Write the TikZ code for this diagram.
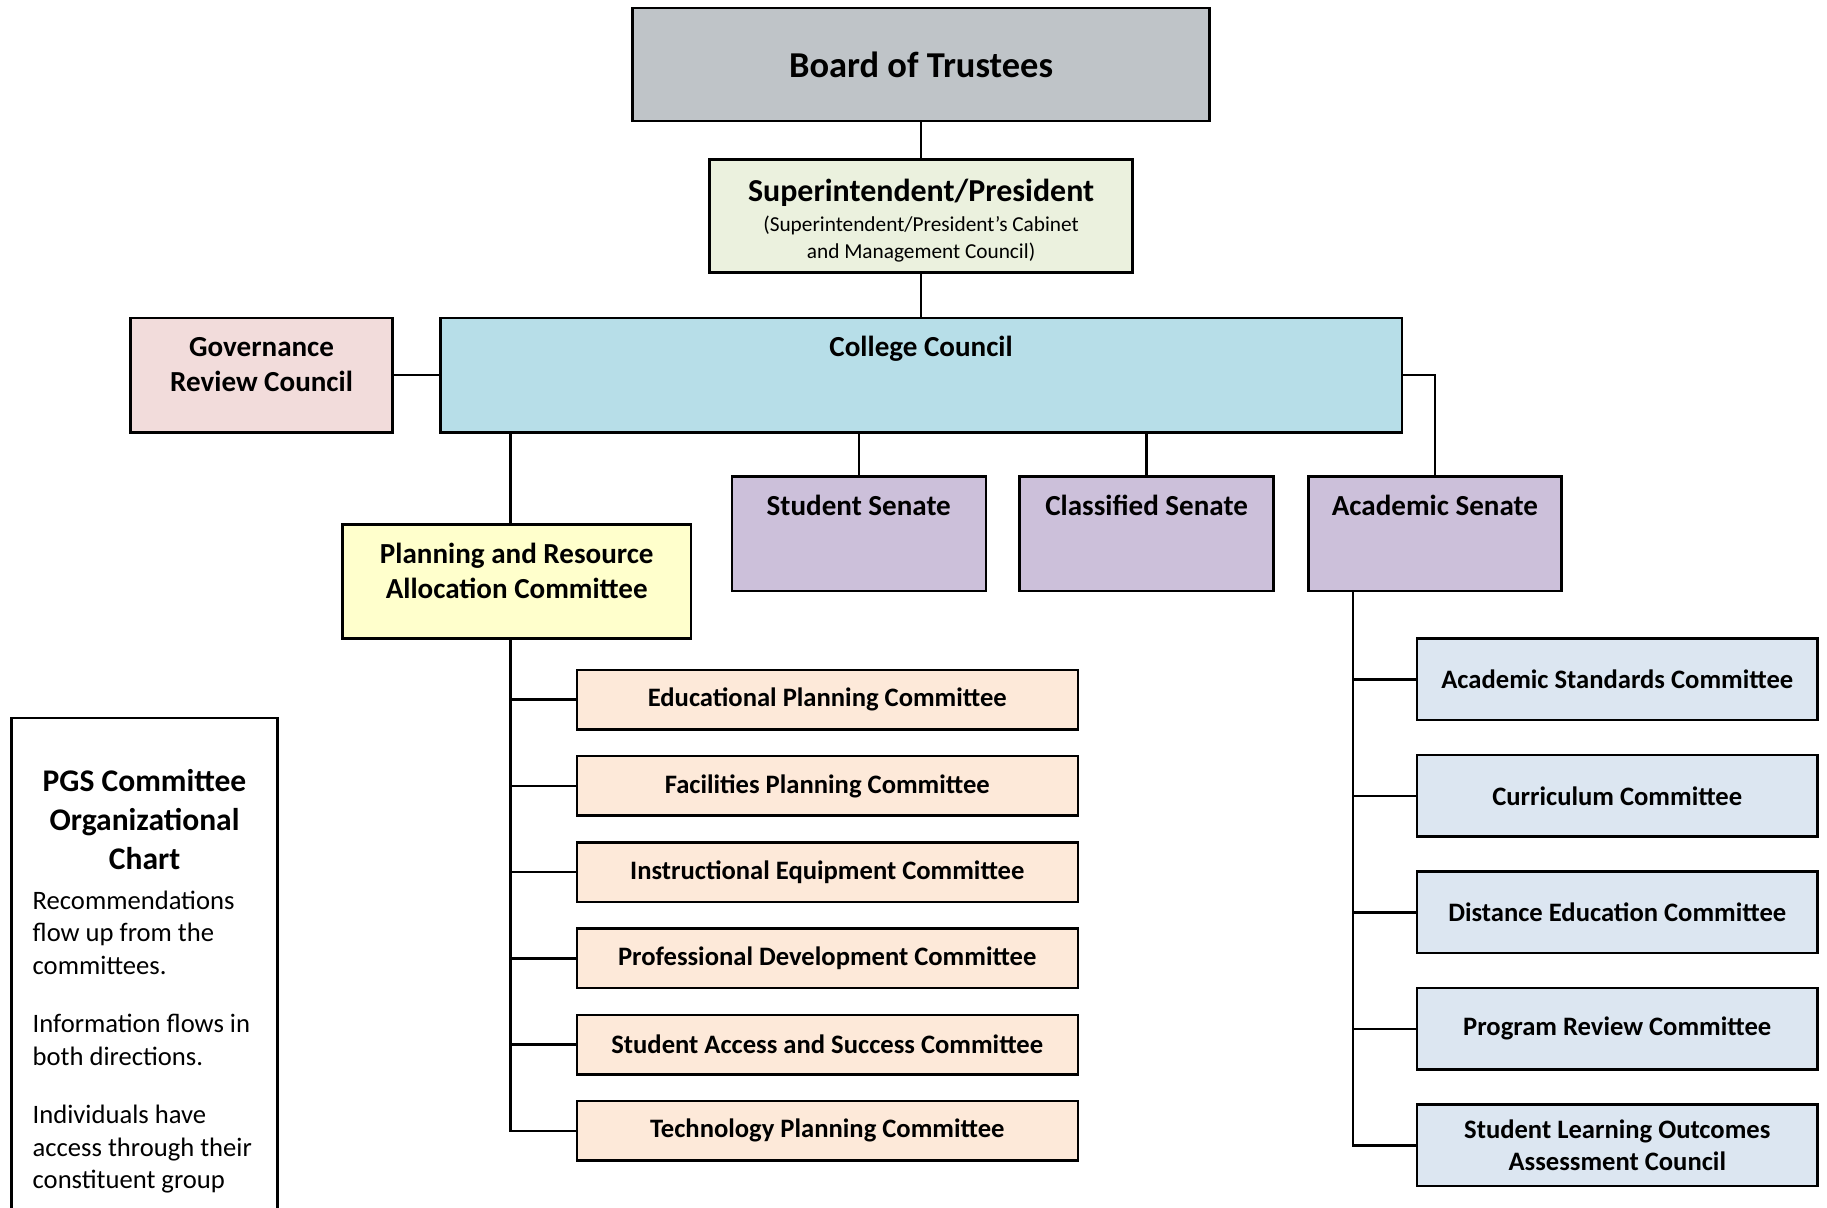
\documentclass[tikz,border=0pt]{standalone}
\usepackage{fontspec}
\setmainfont{Carlito}
\usetikzlibrary{positioning}
\definecolor{boardgray}{RGB}{191,196,200}
\definecolor{supgreen}{RGB}{235,241,222}
\definecolor{govpink}{RGB}{242,220,219}
\definecolor{ccblue}{RGB}{183,222,232}
\definecolor{prayellow}{RGB}{255,255,204}
\definecolor{senpurple}{RGB}{204,192,218}
\definecolor{cmtorange}{RGB}{253,233,217}
\definecolor{cmtblue}{RGB}{220,230,241}
\begin{document}
\begin{tikzpicture}[
  box/.style={draw, line width=0.6pt, inner sep=0pt},
  tbox/.style={box, align=flush center},
  midfont/.style={font=\bfseries\fontsize{7.1}{8.5}\selectfont},
  smallfont/.style={font=\bfseries\fontsize{6.5}{7.9}\selectfont},
  topline/.style={text height=0.33cm, text depth=0.65cm},
  senate/.style={tbox, midfont, topline, fill=senpurple, text width=2.18cm},
  prcmt/.style={tbox, smallfont, fill=cmtorange, text width=4.30cm, minimum height=0.51cm},
  ascmt/.style={tbox, smallfont, fill=cmtblue, text width=3.44cm, minimum height=0.70cm},
  link/.style={line width=0.6pt}]
\useasboundingbox (0,0) rectangle (15.68,-10.36);
\clip (0,0) rectangle (15.68,-10.36);
% top of the chart
\node[tbox, fill=boardgray, text width=4.95cm, minimum height=0.97cm,
  font=\bfseries\fontsize{8.9}{10.7}\selectfont] (bot) at (7.905,-0.555) {Board of Trustees};
\node[box, fill=supgreen, minimum width=3.63cm, text height=0.36cm, text depth=0.61cm] (sup) at (7.905,-1.855)
  {\parbox[t]{3.63cm}{\centering{\bfseries\fontsize{7.8}{9.4}\selectfont Superintendent/President\par}\vspace{0.6pt}
   \fontsize{5.2}{6.6}\selectfont (Superintendent/President’s Cabinet\\and Management Council)}};
\node[tbox, midfont, topline, fill=ccblue, text width=8.25cm] (cc) at (7.905,-3.22) {College Council};
\node[tbox, midfont, topline, fill=govpink, text width=2.25cm] (grc) at (2.245,-3.22) {Governance\\Review Council};
\node[tbox, midfont, text height=0.34cm, text depth=0.64cm, fill=prayellow, text width=2.99cm] (pra) at (4.435,-4.99)
  {Planning and Resource\\Allocation Committee};
\node[senate] (ss) at (7.37,-4.58) {Student Senate};
\node[senate] (cs) at (9.84,-4.58) {Classified Senate};
\node[senate, text width=2.17cm] (as) at (12.315,-4.58) {Academic Senate};
% committees
\foreach \name/\y/\txt in {epc/6.005/Educational Planning Committee,
    fpc/6.745/Facilities Planning Committee,
    iec/7.485/Instructional Equipment Committee,
    pdc/8.225/Professional Development Committee,
    sasc/8.965/Student Access and Success Committee,
    tpc/9.705/Technology Planning Committee}
  \node[prcmt] (\name) at (7.10,-\y) {\txt};
\foreach \name/\y/\txt in {asc/5.83/Academic Standards Committee,
    cuc/6.83/Curriculum Committee,
    dec/7.83/Distance Education Committee,
    prc/8.83/Program Review Committee,
    sloac/9.83/Student Learning Outcomes\\Assessment Council}
  \node[ascmt] (\name) at (13.88,-\y) {\txt};
% legend
\node[box, anchor=north west, text height=0.63cm, text depth=3.97cm] (pgs) at (0.09,-6.15)
  {\parbox[t]{2.28cm}{{\centering\bfseries\fontsize{7.7}{9.6}\selectfont PGS Committee\\Organizational\\Chart\par}\vspace{1.7pt}
   {\raggedright\leftskip=0.18cm\fontsize{6.5}{7.94}\selectfont Recommendations\\flow up from the\\committees.\par\vspace{6.3pt}
   Information flows in\\both directions.\par\vspace{6.3pt}
   Individuals have\\access through their\\constituent group\par}}};
% connectors
\coordinate (pratrunk) at ([xshift=-0.055cm]pra.south);
\coordinate (astrunk) at ([xshift=0.39cm]as.south west);
\draw[link] (bot) -- (sup);
\draw[link] (sup) -- (cc);
\draw[link] (grc) -- (cc);
\draw[link] (pratrunk |- cc.south) -- (pratrunk |- pra.north);
\draw[link] (ss.north |- cc.south) -- (ss.north);
\draw[link] (cs.north |- cc.south) -- (cs.north);
\draw[link] (cc.east) -| (as.north);
\draw[link] (pratrunk) |- (tpc.west);
\foreach \name in {epc,fpc,iec,pdc,sasc}
  \draw[link] (pratrunk |- \name.west) -- (\name.west);
\draw[link] (astrunk) |- (sloac.west);
\foreach \name in {asc,cuc,dec,prc}
  \draw[link] (astrunk |- \name.west) -- (\name.west);
\end{tikzpicture}
\end{document}
